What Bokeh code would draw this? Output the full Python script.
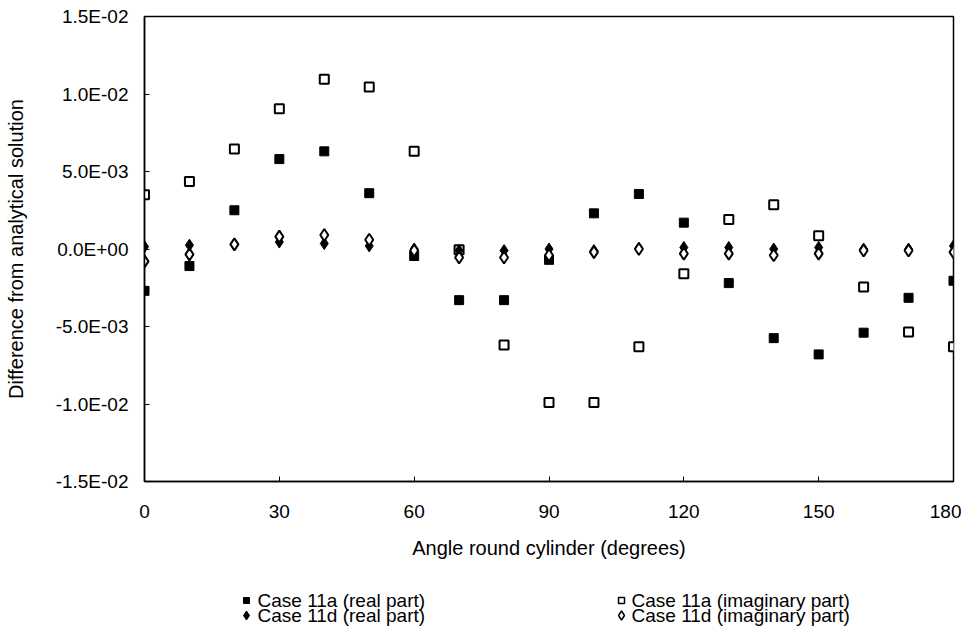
from bokeh.plotting import figure
from bokeh.layouts import column
from bokeh.models import Range1d, FixedTicker, CustomJSTickFormatter
from bokeh.core.properties import value
from bokeh.embed import file_html
from bokeh.resources import INLINE

# ---- data ----
angles = [0, 10, 20, 30, 40, 50, 60, 70, 80, 90, 100, 110, 120, 130, 140, 150, 160, 170, 180]
real_11a = [-2.7e-3, -1.1e-3, 2.5e-3, 5.8e-3, 6.3e-3, 3.6e-3, -0.45e-3, -3.3e-3, -3.3e-3, -0.7e-3,
            2.3e-3, 3.55e-3, 1.7e-3, -2.2e-3, -5.75e-3, -6.8e-3, -5.4e-3, -3.15e-3, -2.05e-3]
imag_11a = [3.5e-3, 4.35e-3, 6.45e-3, 9.05e-3, 10.95e-3, 10.45e-3, 6.3e-3, -0.05e-3, -6.2e-3, -9.9e-3,
            -9.9e-3, -6.3e-3, -1.6e-3, 1.9e-3, 2.85e-3, 0.85e-3, -2.45e-3, -5.35e-3, -6.3e-3]
real_11d = [0.15e-3, 0.25e-3, 0.3e-3, 0.45e-3, 0.35e-3, 0.2e-3, 0.0, -0.1e-3, -0.1e-3, 0.0,
            -0.1e-3, 0.05e-3, 0.1e-3, 0.1e-3, 0.0, 0.1e-3, 0.0, 0.0, 0.2e-3]
imag_11d = [-0.8e-3, -0.35e-3, 0.3e-3, 0.8e-3, 0.9e-3, 0.6e-3, -0.1e-3, -0.55e-3, -0.55e-3, -0.4e-3,
            -0.2e-3, 0.0, -0.3e-3, -0.3e-3, -0.4e-3, -0.3e-3, -0.1e-3, -0.1e-3, -0.2e-3]
x_ticks = [0, 30, 60, 90, 120, 150, 180]
y_ticks = [-0.015, -0.01, -0.005, 0.0, 0.005, 0.01, 0.015]
labels = ["Case 11a (real part)", "Case 11a (imaginary part)",
          "Case 11d (real part)", "Case 11d (imaginary part)"]

FONT = "Liberation Sans"
W = 961
LEFT, RIGHT = 144, 8

# ---- main chart ----
p = figure(width=W, height=575, output_backend="svg", toolbar_location=None,
           x_range=Range1d(0, 180), y_range=Range1d(-0.015, 0.015),
           min_border_left=LEFT, min_border_right=RIGHT, min_border_top=16, min_border_bottom=94)
p.grid.visible = False
p.outline_line_color = "black"
p.outline_line_width = 1.5
p.background_fill_color = "white"
p.border_fill_color = "white"

for ax in (p.xaxis[0], p.yaxis[0]):
    ax.axis_line_color = "black"
    ax.axis_line_width = 1.5
    ax.major_tick_in = 5
    ax.major_tick_out = 0
    ax.minor_tick_in = 0
    ax.minor_tick_out = 0
    ax.major_tick_line_color = "black"
    ax.major_label_text_font = FONT
    ax.major_label_text_font_size = "19px"
    ax.major_label_text_color = "black"
    ax.axis_label_text_font = FONT
    ax.axis_label_text_font_size = "20px"
    ax.axis_label_text_font_style = "normal"
    ax.axis_label_text_color = "black"

p.xaxis.ticker = FixedTicker(ticks=x_ticks)
p.yaxis.ticker = FixedTicker(ticks=y_ticks)
p.yaxis.formatter = CustomJSTickFormatter(code="""
    const s = tick.toExponential(1);
    const parts = s.split('e');
    let e = parts[1];
    const sign = e[0];
    let d = e.slice(1);
    if (d.length < 2) d = '0' + d;
    return parts[0] + 'E' + sign + d;
""")
p.xaxis.major_label_standoff = 23
p.yaxis.major_label_standoff = 16
p.xaxis.axis_label = "Angle round cylinder (degrees)"
p.yaxis.axis_label = "Difference from analytical solution"
p.xaxis.axis_label_standoff = 16
p.yaxis.axis_label_standoff = 26

p.scatter(angles, real_11a, marker="square", size=9, fill_color="black", line_color="black", line_width=1)
p.scatter(angles, imag_11a, marker="square", size=9, fill_color="white", line_color="black", line_width=2)
p.scatter(angles, real_11d, marker="diamond", size=12, fill_color="black", line_color="black", line_width=1)
p.scatter(angles, imag_11d, marker="diamond", size=12, fill_color="white", line_color="black", line_width=2)

# ---- legend strip (x in page pixels, y from the strip's top) ----
LH = 51
lf = figure(width=W, height=LH, output_backend="svg", toolbar_location=None,
            x_range=Range1d(LEFT, W - RIGHT), y_range=Range1d(LH, 0),
            x_axis_location=None, y_axis_location=None,
            min_border_left=LEFT, min_border_right=RIGHT, min_border_top=0, min_border_bottom=0)
lf.grid.visible = False
lf.outline_line_color = None
lf.background_fill_color = "white"
lf.border_fill_color = "white"

col_x = [246, 621]
row_y = [25, 40]
lf.scatter([col_x[0]], [row_y[0]], marker="square", size=6, fill_color="black", line_color="black")
lf.scatter([col_x[1]], [row_y[0]], marker="square", size=6, fill_color="white", line_color="black", line_width=1.5)
lf.scatter([col_x[0]], [row_y[1]], marker="diamond", size=9, fill_color="black", line_color="black")
lf.scatter([col_x[1]], [row_y[1]], marker="diamond", size=9, fill_color="white", line_color="black", line_width=1.5)
lf.text(x=[col_x[0] + 11, col_x[1] + 10, col_x[0] + 11, col_x[1] + 10],
        y=[row_y[0], row_y[0], row_y[1], row_y[1]], text=labels,
        text_font=value(FONT), text_font_size="19px", text_color="black",
        text_baseline="middle", text_align="left")

layout = column(p, lf, spacing=0)
open("out.html", "w").write(file_html(layout, INLINE))
